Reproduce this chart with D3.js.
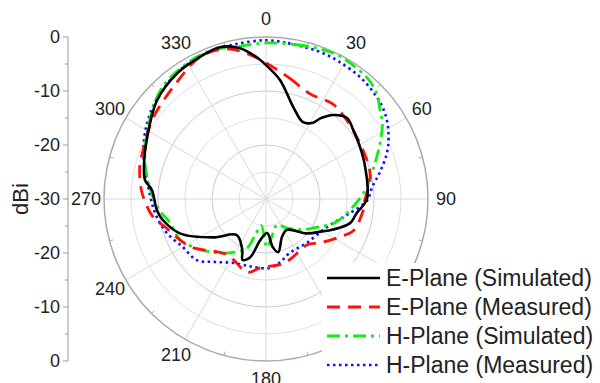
<!DOCTYPE html>
<html>
<head>
<meta charset="utf-8">
<script src="https://cdn.jsdelivr.net/npm/d3@7"></script>
<style>
  body { margin: 0; background: #fff; }
  text { font-family: "Liberation Sans", Arial, sans-serif; fill: #222; }
</style>
</head>
<body>
<svg width="600" height="383"></svg>
<script>
// [angle in degrees, gain in dBi]
const ePlaneSim = [
  [0, -5.2], [6.7, -7.8], [16.4, -12.2], [25.7, -14.2], [31.7, -13.4], [34, -12], [38.6, -10.1],
  [45, -8.8], [51.6, -9.4], [61, -10.1], [72, -10.7], [90, -11.3], [98.7, -13], [106, -13.8],
  [115, -16.5], [120, -18], [130, -20.1], [146, -23.1], [157, -22.4], [167, -19.9], [172, -21],
  [178, -23.7], [188, -22.3], [195, -18.9], [201, -17.9], [205, -19.6], [219, -21.4], [234, -17.9],
  [248, -12.9], [258.5, -10.5], [264, -9.7], [274.5, -8.8], [279, -7.3], [288, -6.3], [296, -5.4],
  [312, -2.8], [325, -1.5], [335, -1.0], [343, -0.6], [350, -1.6], [356, -3.6]
];
const ePlaneMeas = [
  [0, -4.8], [11, -7.2], [23, -8.9], [35, -8.5], [42.5, -8.9], [60, -9.8], [77, -10.2],
  [92, -11.8], [97, -11.9], [110, -12.8], [117, -14.6], [129, -17.1], [138, -18.6], [156, -18.1],
  [165, -17.6], [185, -17.2], [194, -16], [215, -17.4], [238, -13.4], [254.5, -10.6], [261, -8.8],
  [273, -7.0], [284, -5.9], [292, -5.5], [305, -4.3], [321, -3.0], [335, -1.0], [345, -1.2],
  [352, -2.7]
];
const hPlaneSim = [
  [0, -1.1], [11, -0.9], [19, -0.5], [26, -0.2], [32, -0.4], [40, -0.8], [46, -1.6], [52, -3.2],
  [57, -4.3], [63, -6.2], [69, -8.0], [76, -9.8], [85, -11.6], [97.5, -14.3], [109, -16.5],
  [117, -18.7], [132, -21.5], [145, -23.5], [157, -24.8], [168, -23.6], [179, -21.1], [190, -25],
  [196, -23.5], [201, -20.3], [209, -18.8], [218.5, -17.2], [227, -15.7], [237, -13.8],
  [244.5, -12.4], [256, -11.7], [266, -9.8], [286, -6.7], [304, -4.0], [317, -1.8], [330, -0.9],
  [340, -0.7], [349, -1.3]
];
const hPlaneMeas = [
  [0, -0.6], [8, -0.85], [15, -1.0], [21, -1.0], [28, -1.2], [38, -1.5], [47, -2.1], [54, -2.8],
  [62, -4.3], [69, -6.0], [77, -8.4], [83.5, -10.2], [91, -11.3], [101, -14.7], [115, -17.6],
  [137, -18.9], [156, -19.1], [167.5, -18], [177, -17.2], [191, -17.2], [207, -16.7], [220, -14.8],
  [228.5, -12.9], [240, -12.2], [251, -10.6], [260.6, -9.5], [272, -8.5], [292, -5.5],
  [306.6, -3.3], [316.6, -2.2], [326, -1.3], [338, -0.8], [348, -0.8]
];
const seriesNames = ["E-Plane (Simulated)", "E-Plane (Measured)", "H-Plane (Simulated)", "H-Plane (Measured)"];
// 120 and 150 sit under the legend in the original, so they are not shown
const angleLabels = [0, 30, 60, 90, 180, 210, 240, 270, 300, 330];
const radialTicks = [0, -10, -20, -30, -20, -10, 0];

const svg = d3.select("svg");
const cx = 266, cy = 199, R = 162;

const r = d3.scaleLinear().domain([-30, 0]).range([0, R]);
const ang = d3.scaleLinear().domain([0, 360]).range([0, 2 * Math.PI]);

const g = svg.append("g").attr("transform", `translate(${cx},${cy})`);

// grid circles
g.selectAll("circle.grid")
  .data([-25, -20, -15, -10, -5])
  .enter()
  .append("circle")
  .attr("r", d => r(d))
  .attr("fill", "none")
  .attr("stroke", d => d % 10 == 0 ? "#c8c8e6" : "#dedee8")
  .attr("stroke-width", 1);

// spokes
g.selectAll("line.spoke")
  .data(d3.range(0, 360, 30))
  .enter()
  .append("line")
  .attr("x1", 0).attr("y1", 0)
  .attr("x2", d => R * Math.sin(ang(d)))
  .attr("y2", d => -R * Math.cos(ang(d)))
  .attr("stroke", "#d8d8de")
  .attr("stroke-width", 1);

// outer circle + small ticks
g.append("circle").attr("r", R).attr("fill", "none").attr("stroke", "#aaaab4").attr("stroke-width", 1.5);
g.selectAll("line.otick")
  .data(d3.range(15, 360, 30))
  .enter()
  .append("line")
  .attr("x1", d => (R - 4) * Math.sin(ang(d)))
  .attr("y1", d => -(R - 4) * Math.cos(ang(d)))
  .attr("x2", d => R * Math.sin(ang(d)))
  .attr("y2", d => -R * Math.cos(ang(d)))
  .attr("stroke", "#aaaab4");

// angle labels
g.selectAll("text.ang")
  .data(angleLabels)
  .enter()
  .append("text")
  .attr("x", d => 180 * Math.sin(ang(d)))
  .attr("y", d => -180 * Math.cos(ang(d)))
  .attr("text-anchor", "middle")
  .attr("dominant-baseline", "central")
  .attr("font-size", 18)
  .text(d => d);

// curves
const line = d3.lineRadial()
  .angle(d => ang(d[0]))
  .radius(d => r(d[1]))
  .curve(d3.curveCatmullRomClosed.alpha(0.5));

const styles = [
  { data: ePlaneSim, color: "#000000", dash: null, width: 2.6 },
  { data: ePlaneMeas, color: "#ff1010", dash: "13,8", width: 2.8 },
  { data: hPlaneSim, color: "#11ee11", dash: "13,5,3,5", width: 2.8 },
  { data: hPlaneMeas, color: "#1010ff", dash: "2.5,3.5", width: 2.6 }
];

g.selectAll("path.curve")
  .data([styles[3], styles[2], styles[1], styles[0]])
  .enter()
  .append("path")
  .attr("d", d => line(d.data))
  .attr("fill", "none")
  .attr("stroke", d => d.color)
  .attr("stroke-width", d => d.width)
  .attr("stroke-dasharray", d => d.dash);

// left dBi axis
const yAxis = d3.scaleLinear().domain([0, 6]).range([cy - R, cy + R]);
const ax = svg.append("g");
ax.append("line")
  .attr("x1", 68).attr("x2", 68)
  .attr("y1", yAxis(0)).attr("y2", yAxis(6))
  .attr("stroke", "#999");
ax.selectAll("line.minor")
  .data(d3.range(0.5, 6, 1))
  .enter()
  .append("line")
  .attr("x1", 65).attr("x2", 68)
  .attr("y1", d => yAxis(d)).attr("y2", d => yAxis(d))
  .attr("stroke", "#999");
ax.selectAll("line.major")
  .data(radialTicks)
  .enter()
  .append("line")
  .attr("x1", 63).attr("x2", 68)
  .attr("y1", (d, i) => yAxis(i)).attr("y2", (d, i) => yAxis(i))
  .attr("stroke", "#999");
ax.selectAll("text")
  .data(radialTicks)
  .enter()
  .append("text")
  .attr("x", 60)
  .attr("y", (d, i) => yAxis(i))
  .attr("text-anchor", "end")
  .attr("dominant-baseline", "central")
  .attr("font-size", 18)
  .text(d => d);

svg.append("text")
  .attr("transform", `translate(28,${cy}) rotate(-90)`)
  .attr("text-anchor", "middle")
  .attr("font-size", 22)
  .text("dBi");

// legend
const leg = svg.append("g");
leg.append("rect")
  .attr("x", 322).attr("y", 263)
  .attr("width", 278).attr("height", 120)
  .attr("fill", "#fff");
const rows = leg.selectAll("g.row")
  .data(styles)
  .enter()
  .append("g")
  .attr("transform", (d, i) => `translate(0,${278 + i * 29})`);
rows.append("line")
  .attr("x1", 327).attr("x2", 380)
  .attr("y1", 0).attr("y2", 0)
  .attr("stroke", d => d.color)
  .attr("stroke-width", d => d.width)
  .attr("stroke-dasharray", d => d.dash);
rows.append("text")
  .attr("x", 386)
  .attr("y", 0)
  .attr("dominant-baseline", "central")
  .attr("font-size", 23)
  .text((d, i) => seriesNames[i]);
</script>
</body>
</html>
